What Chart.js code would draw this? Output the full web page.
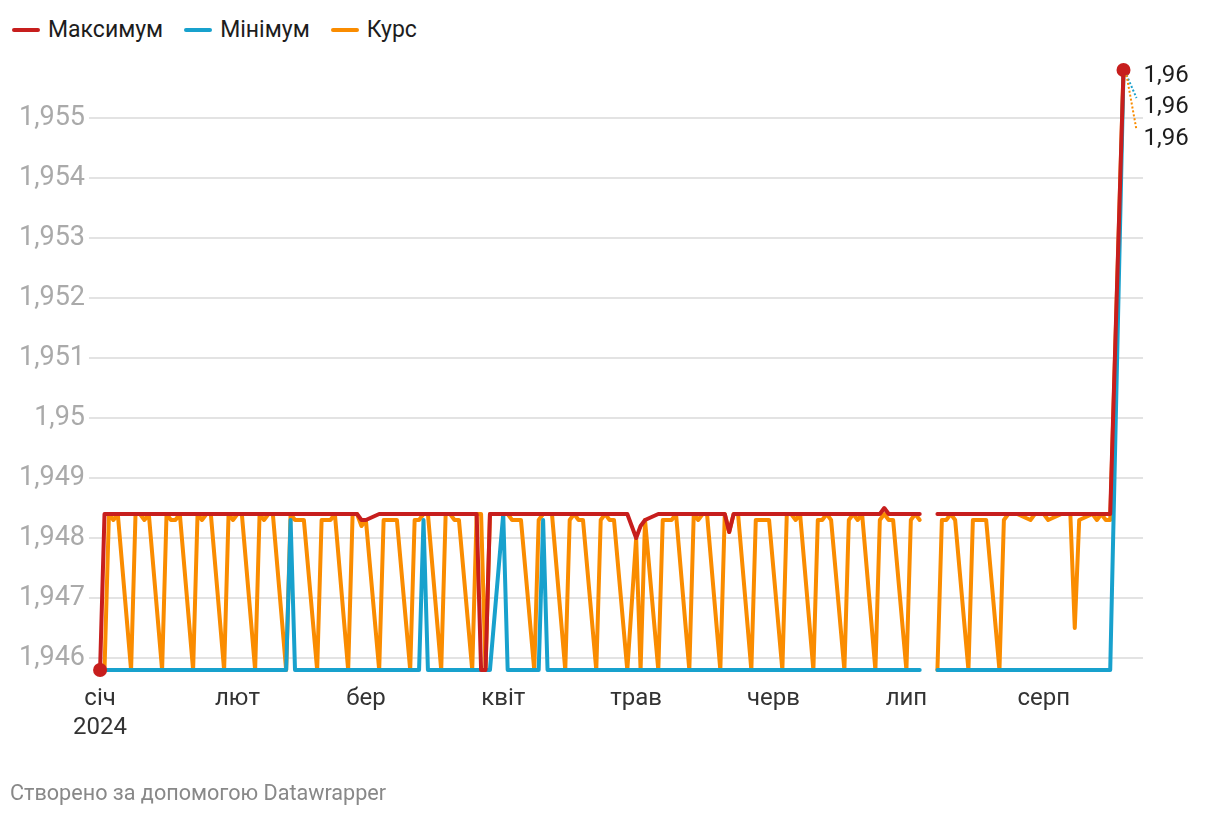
<!DOCTYPE html>
<html lang="uk">
<head>
<meta charset="utf-8">
<title>Курс</title>
<script src="https://cdn.jsdelivr.net/npm/chart.js@4/dist/chart.umd.min.js"></script>
<style>
  html, body { margin: 0; padding: 0; background: #fff; }
  body { width: 1220px; height: 816px; position: relative; overflow: hidden; font-family: Roboto, sans-serif; }
  #legend { position: absolute; left: 12px; top: 16px; display: flex; font-size: 23px; line-height: 28px; color: #1d1d1d; }
  .item { display: flex; align-items: center; margin-right: 21px; }
  .swatch { width: 28px; height: 4px; border-radius: 2px; margin-right: 8px; }
  #chart { position: absolute; left: 0; top: 0; }
  #credit { position: absolute; left: 10px; top: 780px; font-size: 21.6px; line-height: 26px; color: #888; }
</style>
</head>
<body>
<div id="legend"></div>
<canvas id="chart" width="1220" height="816"></canvas>
<div id="credit">Створено за допомогою Datawrapper</div>
<script>
// business days, 2024
const dates = [
  '01-01','01-02','01-03','01-04','01-05',
  '01-08','01-09','01-10','01-11','01-12',
  '01-15','01-16','01-17','01-18','01-19',
  '01-22','01-23','01-24','01-25','01-26',
  '01-29','01-30','01-31','02-01','02-02',
  '02-05','02-06','02-07','02-08','02-09',
  '02-12','02-13','02-14','02-15','02-16',
  '02-19','02-20','02-21','02-22','02-23',
  '02-26','02-27','02-28','02-29','03-01',
  '03-04','03-05','03-06','03-07','03-08',
  '03-11','03-12','03-13','03-14','03-15',
  '03-18','03-19','03-20','03-21','03-22',
  '03-25','03-26','03-27','03-28','03-29',
  '04-01','04-02','04-03','04-04','04-05',
  '04-08','04-09','04-10','04-11','04-12',
  '04-15','04-16','04-17','04-18','04-19',
  '04-22','04-23','04-24','04-25','04-26',
  '04-29','04-30','05-01','05-02','05-03',
  '05-06','05-07','05-08','05-09','05-10',
  '05-13','05-14','05-15','05-16','05-17',
  '05-20','05-21','05-22','05-23','05-24',
  '05-27','05-28','05-29','05-30','05-31',
  '06-03','06-04','06-05','06-06','06-07',
  '06-10','06-11','06-12','06-13','06-14',
  '06-17','06-18','06-19','06-20','06-21',
  '06-24','06-25','06-26','06-27','06-28',
  '07-01','07-02','07-03','07-04','07-05',
  '07-08','07-09','07-10','07-11','07-12',
  '07-15','07-16','07-17','07-18','07-19',
  '07-22','07-23','07-24','07-25','07-26',
  '07-29','07-30','07-31','08-01','08-02',
  '08-05','08-06','08-07','08-08','08-09',
  '08-12','08-13','08-14','08-15','08-16',
  '08-19'
];

const maxValues = [
  1.9458,1.9484,1.9484,1.9484,1.9484,
  1.9484,1.9484,1.9484,1.9484,1.9484,
  1.9484,1.9484,1.9484,1.9484,1.9484,
  1.9484,1.9484,1.9484,1.9484,1.9484,
  1.9484,1.9484,1.9484,1.9484,1.9484,
  1.9484,1.9484,1.9484,1.9484,1.9484,
  1.9484,1.9484,1.9484,1.9484,1.9484,
  1.9484,1.9484,1.9484,1.9484,1.9484,
  1.9484,1.9484,1.9484,1.9483,1.9483,
  1.9484,1.9484,1.9484,1.9484,1.9484,
  1.9484,1.9484,1.9484,1.9484,1.9484,
  1.9484,1.9484,1.9484,1.9484,1.9484,
  1.9484,1.9484,1.9458,1.9458,1.9484,
  1.9484,1.9484,1.9484,1.9484,1.9484,
  1.9484,1.9484,1.9484,1.9484,1.9484,
  1.9484,1.9484,1.9484,1.9484,1.9484,
  1.9484,1.9484,1.9484,1.9484,1.9484,
  1.9484,1.9482,1.9480,1.9482,1.9483,
  1.9484,1.9484,1.9484,1.9484,1.9484,
  1.9484,1.9484,1.9484,1.9484,1.9484,
  1.9484,1.9484,1.9481,1.9484,1.9484,
  1.9484,1.9484,1.9484,1.9484,1.9484,
  1.9484,1.9484,1.9484,1.9484,1.9484,
  1.9484,1.9484,1.9484,1.9484,1.9484,
  1.9484,1.9484,1.9484,1.9484,1.9484,
  1.9484,1.9484,1.9485,1.9484,1.9484,
  1.9484,1.9484,1.9484,1.9484,null,
  1.9484,1.9484,1.9484,1.9484,1.9484,
  1.9484,1.9484,1.9484,1.9484,1.9484,
  1.9484,1.9484,1.9484,1.9484,1.9484,
  1.9484,1.9484,1.9484,1.9484,1.9484,
  1.9484,1.9484,1.9484,1.9484,1.9484,
  1.9484,1.9484,1.9484,1.9484,1.9484,
  1.9558
];

const minValues = [
  1.9458,1.9458,1.9458,1.9458,1.9458,
  1.9458,1.9458,1.9458,1.9458,1.9458,
  1.9458,1.9458,1.9458,1.9458,1.9458,
  1.9458,1.9458,1.9458,1.9458,1.9458,
  1.9458,1.9458,1.9458,1.9458,1.9458,
  1.9458,1.9458,1.9458,1.9458,1.9458,
  1.9458,1.9483,1.9458,1.9458,1.9458,
  1.9458,1.9458,1.9458,1.9458,1.9458,
  1.9458,1.9458,1.9458,1.9458,1.9458,
  1.9458,1.9458,1.9458,1.9458,1.9458,
  1.9458,1.9458,1.9458,1.9483,1.9458,
  1.9458,1.9458,1.9458,1.9458,1.9458,
  1.9458,1.9458,1.9458,1.9458,1.9458,
  1.9484,1.9458,1.9458,1.9458,1.9458,
  1.9458,1.9458,1.9483,1.9458,1.9458,
  1.9458,1.9458,1.9458,1.9458,1.9458,
  1.9458,1.9458,1.9458,1.9458,1.9458,
  1.9458,1.9458,1.9458,1.9458,1.9458,
  1.9458,1.9458,1.9458,1.9458,1.9458,
  1.9458,1.9458,1.9458,1.9458,1.9458,
  1.9458,1.9458,1.9458,1.9458,1.9458,
  1.9458,1.9458,1.9458,1.9458,1.9458,
  1.9458,1.9458,1.9458,1.9458,1.9458,
  1.9458,1.9458,1.9458,1.9458,1.9458,
  1.9458,1.9458,1.9458,1.9458,1.9458,
  1.9458,1.9458,1.9458,1.9458,1.9458,
  1.9458,1.9458,1.9458,1.9458,null,
  1.9458,1.9458,1.9458,1.9458,1.9458,
  1.9458,1.9458,1.9458,1.9458,1.9458,
  1.9458,1.9458,1.9458,1.9458,1.9458,
  1.9458,1.9458,1.9458,1.9458,1.9458,
  1.9458,1.9458,1.9458,1.9458,1.9458,
  1.9458,1.9458,1.9458,1.9458,1.9458,
  1.9558
];

const rateValues = [
  1.9458,1.9458,1.9484,1.9483,1.9484,
  1.9458,1.9484,1.9484,1.9483,1.9484,
  1.9458,1.9484,1.9483,1.9483,1.9484,
  1.9458,1.9484,1.9483,1.9484,1.9484,
  1.9458,1.9484,1.9483,1.9484,1.9484,
  1.9458,1.9484,1.9483,1.9484,1.9484,
  1.9458,1.9484,1.9483,1.9483,1.9483,
  1.9458,1.9483,1.9483,1.9483,1.9484,
  1.9458,1.9484,1.9484,1.9482,1.9483,
  1.9458,1.9483,1.9483,1.9483,1.9483,
  1.9458,1.9483,1.9483,1.9484,1.9484,
  1.9458,1.9484,1.9484,1.9483,1.9483,
  1.9458,1.9484,1.9484,1.9458,1.9484,
  1.9484,1.9484,1.9483,1.9483,1.9483,
  1.9458,1.9483,1.9484,1.9484,1.9484,
  1.9458,1.9483,1.9484,1.9483,1.9483,
  1.9458,1.9483,1.9484,1.9483,1.9483,
  1.9458,null,1.9480,1.9458,1.9483,
  1.9458,1.9483,1.9483,1.9483,1.9484,
  1.9458,1.9484,1.9483,1.9484,1.9484,
  1.9458,1.9484,1.9481,1.9484,1.9484,
  1.9458,1.9483,1.9483,1.9483,1.9483,
  1.9458,1.9484,1.9484,1.9483,1.9484,
  1.9458,1.9483,1.9483,1.9484,1.9483,
  1.9458,1.9483,1.9484,1.9483,1.9484,
  1.9458,1.9483,1.9484,1.9483,1.9483,
  1.9458,1.9483,1.9484,1.9483,null,
  1.9458,1.9483,1.9483,1.9484,1.9483,
  1.9458,1.9483,1.9483,1.9483,1.9483,
  1.9458,1.9483,1.9484,1.9484,1.9484,
  1.9483,1.9484,1.9484,1.9484,1.9483,
  1.9484,1.9484,1.9484,1.9465,1.9483,
  1.9484,1.9483,1.9484,1.9483,1.9483,
  1.9558
];

const seriesNames = ['Максимум', 'Мінімум', 'Курс'];
const seriesColors = ['#c71e1d', '#18a1cd', '#fa8c00'];

const monthTicks = ['01-01','02-01','03-01','04-01','05-01','06-01','07-01','08-01'];
const monthLabels = [['січ', '2024'], 'лют', 'бер', 'квіт', 'трав', 'черв', 'лип', 'серп'];
const yTicks = [1.946, 1.947, 1.948, 1.949, 1.95, 1.951, 1.952, 1.953, 1.954, 1.955];

const toDay = s => Math.round((Date.parse('2024-' + s) - Date.parse('2024-01-01')) / 864e5);
const points = vals => dates.map((d, i) => ({ x: toDay(d), y: vals[i] })).filter(p => p.y !== null);

// legend
const legend = document.getElementById('legend');
seriesNames.forEach((name, i) => {
  const item = document.createElement('div');
  item.className = 'item';
  item.innerHTML = '<span class="swatch" style="background:' + seriesColors[i] + '"></span>' + name;
  legend.appendChild(item);
});

const fmt = v => String(v).replace('.', ',');

const endLabels = {
  id: 'endLabels',
  afterDatasetsDraw(chart) {
    const ctx = chart.ctx;
    const offsets = [6, 37, 69];
    ctx.save();
    chart.data.datasets.forEach((ds, i) => {
      const meta = chart.getDatasetMeta(i);
      const pt = meta.data[meta.data.length - 1];
      const v = ds.data[ds.data.length - 1].y;
      const ly = pt.y + offsets[i];
      if (i > 0) {
        ctx.strokeStyle = seriesColors[i];
        ctx.lineWidth = 2;
        ctx.setLineDash([2, 2]);
        ctx.beginPath();
        ctx.moveTo(pt.x + 3, pt.y + 5);
        ctx.lineTo(pt.x + 13, ly - 9);
        ctx.stroke();
        ctx.setLineDash([]);
      }
      ctx.fillStyle = '#1d1d1d';
      ctx.font = '24px Roboto';
      ctx.textBaseline = 'middle';
      ctx.textAlign = 'left';
      ctx.fillText(fmt(v.toFixed(2)), pt.x + 20, ly);
    });
    ctx.restore();
  }
};

const ctx = document.getElementById('chart').getContext('2d');

const myChart = new Chart(ctx, {
  type: 'line',
  data: {
    datasets: [
      {
        label: seriesNames[0],
        data: points(maxValues),
        borderColor: seriesColors[0],
        backgroundColor: seriesColors[0],
        borderWidth: 4,
        clip: false,
        pointRadius: c => (c.dataIndex === 0 || c.dataIndex === c.dataset.data.length - 1) ? 7 : 0,
        pointBorderWidth: 0
      },
      {
        label: seriesNames[1],
        data: points(minValues),
        borderColor: seriesColors[1],
        backgroundColor: seriesColors[1],
        borderWidth: 4,
        clip: false,
        pointRadius: 0
      },
      {
        label: seriesNames[2],
        data: points(rateValues),
        borderColor: seriesColors[2],
        backgroundColor: seriesColors[2],
        borderWidth: 4,
        clip: false,
        pointRadius: 0
      }
    ]
  },
  options: {
    responsive: false,
    animation: false,
    spanGaps: 3.5,
    elements: { line: { tension: 0, borderJoinStyle: 'round', borderCapStyle: 'round' } },
    layout: { padding: { top: 70, right: 77, left: 0, bottom: 0 } },
    plugins: { legend: { display: false }, tooltip: { enabled: false } },
    scales: {
      x: {
        type: 'linear',
        min: -2.5,
        max: 235.4,
        grid: { display: false },
        border: { display: false },
        afterBuildTicks: s => { s.ticks = monthTicks.map(m => ({ value: toDay(m) })); },
        afterFit: s => { s.height = 146; },
        ticks: {
          autoSkip: false,
          maxRotation: 0,
          padding: 7,
          color: '#333',
          font: { family: 'Roboto', size: 24, lineHeight: 1.2 },
          callback: (v, i) => monthLabels[i]
        }
      },
      y: {
        min: 1.9458,
        max: 1.9558,
        border: { display: false },
        grid: { color: '#e3e3e3', lineWidth: 2, drawTicks: false },
        afterBuildTicks: s => { s.ticks = yTicks.map(v => ({ value: v })); },
        afterFit: s => { s.width = 89; },
        ticks: {
          padding: 4,
          color: '#aaa',
          font: { family: 'Roboto', size: 27 },
          callback: v => fmt(v)
        }
      }
    }
  },
  plugins: [endLabels]
});
</script>
</body>
</html>
